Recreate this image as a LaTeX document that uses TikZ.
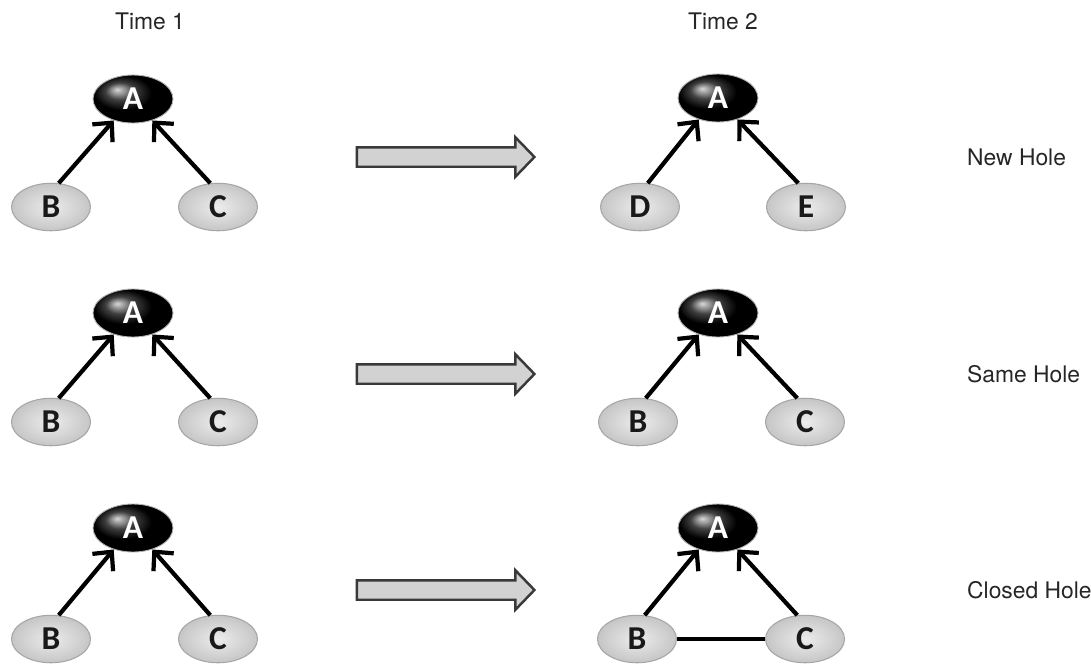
\documentclass[tikz,border=0pt]{standalone}
\usepackage{fontspec}
\setmainfont{TeX Gyre Heros}
\newfontfamily\letterfont{Carlito}
\usetikzlibrary{shapes.geometric,shapes.arrows,arrows.meta}

\tikzset{
  ego/.style={ellipse, minimum width=1.6cm, minimum height=0.96cm, inner sep=0pt,
    draw=gray!60, line width=0.5pt, ball color=black, text=white,
    font=\fontsize{19}{19}\letterfont\bfseries\selectfont},
  alter/.style={ellipse, minimum width=1.58cm, minimum height=0.95cm, inner sep=0pt,
    draw=gray!70, line width=0.6pt, inner color=gray!15, outer color=gray!45, text=black!90,
    font=\fontsize{19}{19}\letterfont\bfseries\selectfont},
  tie/.style={line width=2.4pt, -{Straight Barb[length=2.8mm,width=5.4mm,line width=2.4pt]}},
  bridge/.style={line width=2.4pt},
  timestep/.style={single arrow, draw=gray!45!black, line width=1.4pt, fill=gray!35,
    minimum height=3.55cm, text height=0.3cm, text depth=0pt, inner sep=0.02cm,
    single arrow head extend=0.2cm, single arrow tip angle=92},
  caption/.style={font=\fontsize{13}{15}\selectfont, text=black!85}
}

\begin{document}
\begin{tikzpicture}[x=0.02cm, y=-0.02cm]
  \useasboundingbox (0,0) rectangle (1091,667);

  % column heads
  \node[caption] (t1) at (150,21) {Time 1};
  \node[caption] (t2) at (723,21) {Time 2};

  % row 1: new hole
  \node[ego] (a11) at (133,99) {A};
  \node[alter] (b11) at (51,207) {B};
  \node[alter] (c11) at (218,207) {C};
  \draw[tie] (b11.72) -- (a11.228);
  \draw[tie] (c11.108) -- (a11.312);
  \node[timestep] (s1) at (441,157) {};
  \node[ego] (a12) at (718,98) {A};
  \node[alter] (d12) at (640,207) {D};
  \node[alter] (e12) at (806,207) {E};
  \draw[tie] (d12.72) -- (a12.228);
  \draw[tie] (e12.108) -- (a12.312);
  \node[caption, anchor=west] (r1) at (961,157) {New Hole};

  % row 2: same hole
  \node[ego] (a21) at (133,313) {A};
  \node[alter] (b21) at (51,422) {B};
  \node[alter] (c21) at (218,422) {C};
  \draw[tie] (b21.72) -- (a21.228);
  \draw[tie] (c21.108) -- (a21.312);
  \node[timestep] (s2) at (441,374) {};
  \node[ego] (a22) at (718,313) {A};
  \node[alter] (b22) at (638,422) {B};
  \node[alter] (c22) at (805,422) {C};
  \draw[tie] (b22.72) -- (a22.228);
  \draw[tie] (c22.108) -- (a22.312);
  \node[caption, anchor=west] (r2) at (961,374) {Same Hole};

  % row 3: closed hole
  \node[ego] (a31) at (133,528) {A};
  \node[alter] (b31) at (51,639) {B};
  \node[alter] (c31) at (218,639) {C};
  \draw[tie] (b31.72) -- (a31.228);
  \draw[tie] (c31.108) -- (a31.312);
  \node[timestep] (s3) at (441,590) {};
  \node[ego] (a32) at (718,528) {A};
  \node[alter] (b32) at (637,639) {B};
  \node[alter] (c32) at (805,639) {C};
  \draw[tie] (b32.72) -- (a32.228);
  \draw[tie] (c32.108) -- (a32.312);
  \draw[bridge] (b32) -- (c32);
  \node[caption, anchor=west] (r3) at (961,590) {Closed Hole};
\end{tikzpicture}
\end{document}
